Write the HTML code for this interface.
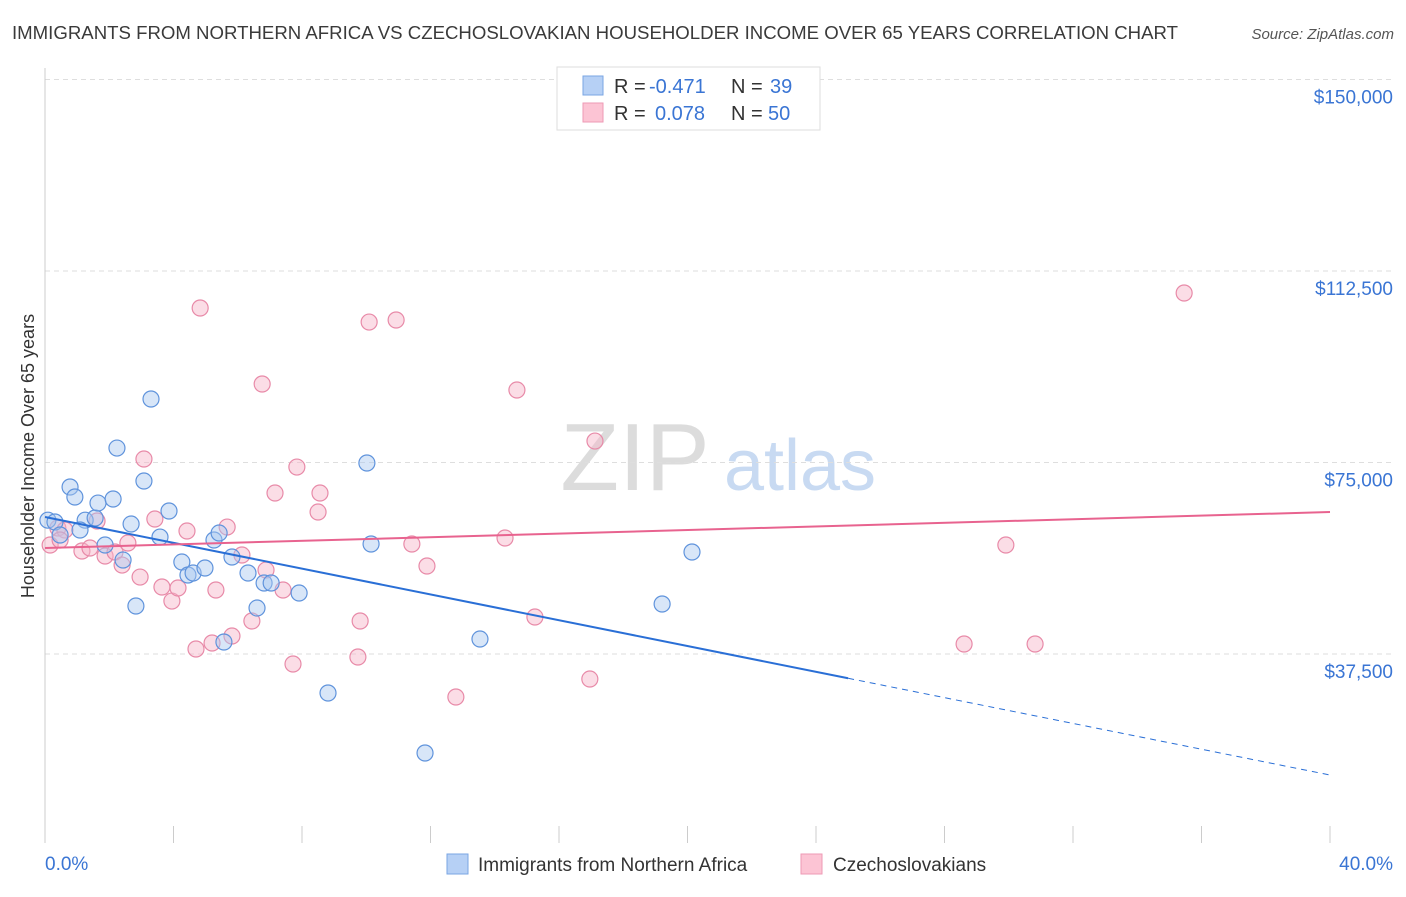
<!DOCTYPE html>
<html><head><meta charset="utf-8"><style>
body{margin:0;background:#fff;font-family:"Liberation Sans",sans-serif;}
svg text{font-family:"Liberation Sans",sans-serif;}
</style></head><body>
<svg id="chart" width="1406" height="892" xmlns="http://www.w3.org/2000/svg">
<text x="12" y="39" font-size="18" fill="#3a3a3a" textLength="1166" lengthAdjust="spacingAndGlyphs">IMMIGRANTS FROM NORTHERN AFRICA VS CZECHOSLOVAKIAN HOUSEHOLDER INCOME OVER 65 YEARS CORRELATION CHART</text>
<text x="1394" y="39" font-size="15" fill="#555" font-style="italic" text-anchor="end">Source: ZipAtlas.com</text>
<g>
<text x="635" y="490" font-size="96" fill="#dcdcdc" font-family="Liberation Serif" text-anchor="middle">ZIP</text>
<text x="800" y="490" font-size="72" fill="#c8daf2" text-anchor="middle">atlas</text>
</g>
<text transform="translate(34,456) rotate(-90)" font-size="18" fill="#333" text-anchor="middle">Householder Income Over 65 years</text>
<g id="grid"></g><g id="axes"></g><g id="marks"></g>
<g>
<rect x="557" y="67" width="263" height="63" fill="#fff" stroke="#ddd"/>
<rect x="583" y="76" width="20" height="19" fill="#b6d0f5" stroke="#7aa6e3"/>
<rect x="583" y="103" width="20" height="19" fill="#fcc4d4" stroke="#ee9ab5"/>
<text x="614" y="93" font-size="20" fill="#333">R =</text>
<text x="649" y="93" font-size="20" fill="#3a75d4">-0.471</text>
<text x="731" y="93" font-size="20" fill="#333">N =</text>
<text x="770" y="93" font-size="20" fill="#3a75d4">39</text>
<text x="614" y="120" font-size="20" fill="#333">R =</text>
<text x="655" y="120" font-size="20" fill="#3a75d4">0.078</text>
<text x="731" y="120" font-size="20" fill="#333">N =</text>
<text x="768" y="120" font-size="20" fill="#3a75d4">50</text>
</g>
<g>
<rect x="447" y="854" width="21" height="20" fill="#b6d0f5" stroke="#7aa6e3"/>
<text x="478" y="871" font-size="19" fill="#333">Immigrants from Northern Africa</text>
<rect x="801" y="854" width="21" height="20" fill="#fcc4d4" stroke="#ee9ab5"/>
<text x="833" y="871" font-size="19" fill="#333">Czechoslovakians</text>
</g>
</svg>
<script>
const yTicks=[37500,75000,112500,150000];
const yTickLabels=["$37,500","$75,000","$112,500","$150,000"];
const blueX=[0.09,0.31,0.47,0.78,0.93,1.25,1.09,1.56,1.65,2.12,1.87,2.24,2.43,2.83,2.68,3.08,3.30,3.58,3.86,4.26,4.45,4.61,4.98,5.26,5.42,5.57,5.82,6.32,6.60,6.82,7.04,7.91,8.81,10.02,10.15,11.83,13.54,19.21,20.14];
const blueY=[63700,63350,60800,70200,68240,63700,61780,64130,67060,67850,58840,77830,55900,46900,62950,71370,87430,60400,65500,55510,52970,53360,54340,59820,61190,39850,56490,53360,46500,51400,51400,49440,29860,74900,59040,18110,40430,47290,57470];
const pinkX=[0.16,0.40,0.62,1.15,1.40,1.62,1.87,2.18,2.40,2.58,2.96,3.08,3.42,3.64,3.95,4.14,4.42,4.70,4.83,5.20,5.32,5.67,5.82,6.13,6.44,6.76,6.88,7.16,7.41,7.72,7.84,8.50,8.56,9.74,9.81,10.09,10.93,11.42,11.89,12.79,14.32,14.69,15.25,16.96,17.12,28.61,29.91,30.82,35.46,0.47];
const pinkY=[58840,62170,61780,57670,58250,63540,56690,57470,54920,59230,52570,75680,63930,50620,47870,50420,61580,38480,105250,39650,50030,62360,41020,56880,43960,90370,53940,69020,50030,35540,74110,65300,69020,36910,43960,102500,102900,59040,54730,29080,60210,89190,44740,32600,79200,39460,58840,39460,108190,59820];
const blueTrend=[64320,13800];
const pinkTrend=[58250,65300];
const X=v=>45+v*32.125, Y=v=>845.5-v/195.82;
const NS="http://www.w3.org/2000/svg";
function mk(p,t,a){const e=document.createElementNS(NS,t);for(const k in a)e.setAttribute(k,a[k]);p.appendChild(e);return e;}
const grid=document.getElementById('grid'),axes=document.getElementById('axes'),marks=document.getElementById('marks');
yTicks.forEach((t,i)=>{
 const l=mk(grid,'line',{x1:45,x2:1393,y1:Y(t),y2:Y(t),stroke:'#dedede','stroke-dasharray':'5,4'});
 
 
 const tx=mk(axes,'text',{x:1393,y:Y(t)+24,'font-size':19,fill:'#3a75d4','text-anchor':'end'});
 tx.textContent=yTickLabels[i];
 
 
});
const ax=mk(axes,'line',{x1:45,x2:45,y1:68,y2:843,stroke:'#ccc'});


for(let i=0;i<=10;i++){
 const t=mk(axes,'line',{x1:X(i*4),x2:X(i*4),y1:826,y2:843,stroke:'#ccc'});
 
 
}
const xl0=mk(axes,'text',{x:45,y:870,'font-size':19,fill:'#3a75d4'});xl0.textContent='0.0%';


const xl1=mk(axes,'text',{x:1393,y:870,'font-size':19,fill:'#3a75d4','text-anchor':'end'});xl1.textContent='40.0%';


function pts(xs,ys,fill,stroke,name){xs.forEach((x,i)=>{
 const c=mk(marks,'circle',{cx:X(x),cy:Y(ys[i]),r:8,fill:fill,'fill-opacity':0.45,stroke:stroke,'stroke-width':1.2});
 
 
});}
pts(pinkX,pinkY,'#f7b3c7','#e88aa8','pink-point');
pts(blueX,blueY,'#a9c8f0','#5f93dc','blue-point');
const bAt=x=>blueTrend[0]+(blueTrend[1]-blueTrend[0])*x/40;
const b1=mk(marks,'line',{x1:X(0),y1:Y(bAt(0)),x2:X(25),y2:Y(bAt(25)),stroke:'#2a6fd6','stroke-width':2});


const b2=mk(marks,'line',{x1:X(25),y1:Y(bAt(25)),x2:X(40),y2:Y(bAt(40)),stroke:'#2a6fd6','stroke-width':1,'stroke-dasharray':'6,5'});


const p1=mk(marks,'line',{x1:X(0),y1:Y(pinkTrend[0]),x2:X(40),y2:Y(pinkTrend[1]),stroke:'#e8638f','stroke-width':2});


</script>
</body></html>
